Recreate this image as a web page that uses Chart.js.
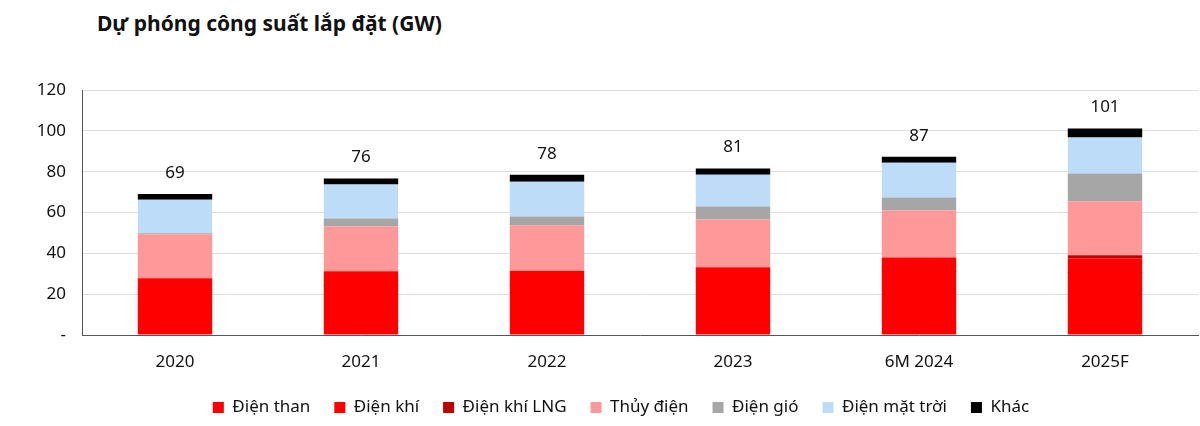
<!DOCTYPE html>
<html>
<head>
<meta charset="utf-8">
<script src="https://cdn.jsdelivr.net/npm/chart.js@4"></script>
<style>
html,body{margin:0;padding:0;background:#fff;}
#wrap{position:relative;width:1200px;height:426px;}
#title{position:absolute;left:97px;top:9px;font-family:"Noto Sans",sans-serif;font-weight:bold;font-size:21px;color:#111;}
canvas{position:absolute;left:0;top:0;}
</style>
</head>
<body>
<div id="wrap">
<div id="title">Dự phóng công suất lắp đặt (GW)</div>
<canvas id="c" width="1200" height="426"></canvas>
</div>
<script>
const categories = ["2020", "2021", "2022", "2023", "6M 2024", "2025F"];
const dienThan   = [20.6, 24.0, 24.3, 26.0, 30.8, 30.4];
const dienKhi    = [7.2, 7.2, 7.2, 7.2, 7.2, 7.2];
const dienKhiLNG = [0, 0, 0, 0, 0, 1.5];
const thuyDien   = [21.5, 22.0, 22.2, 23.4, 23.0, 26.4];
const dienGio    = [0.5, 3.9, 4.3, 6.3, 6.3, 13.6];
const matTroi    = [16.4, 16.6, 17.1, 15.6, 17.1, 17.6];
const khac       = [2.9, 2.9, 3.4, 3.0, 2.9, 4.4];
const totalLabels = ["69", "76", "78", "81", "87", "101"];
const yTicks = [0, 20, 40, 60, 80, 100, 120];

const FONT = '"Noto Sans", sans-serif';
const series = [
  ["Điện than", dienThan, "#FF0000"],
  ["Điện khí", dienKhi, "#FF0000"],
  ["Điện khí LNG", dienKhiLNG, "#C00000"],
  ["Thủy điện", thuyDien, "#FF9999"],
  ["Điện gió", dienGio, "#A6A6A6"],
  ["Điện mặt trời", matTroi, "#BDDCF7"],
  ["Khác", khac, "#000000"]
];

const totalsPlugin = {
  id: 'totals',
  afterLayout(chart) {
    const lg = chart.legend;
    if (lg) { lg.left += 22; lg.right += 22; }
  },
  beforeDatasetsDraw(chart) {
    // hide the anti-aliasing seam between the two same-coloured red segments
    const meta = chart.getDatasetMeta(0);
    meta.data.forEach(el => { el.y = el.y - 1; });
  },
  afterDatasetsDraw(chart) {
    const ctx = chart.ctx;
    const xs = chart.scales.x, ys = chart.scales.y;
    ctx.save();
    ctx.font = '17px ' + FONT;
    ctx.fillStyle = '#111';
    ctx.textAlign = 'center';
    ctx.textBaseline = 'middle';
    categories.forEach((c, i) => {
      let sum = 0;
      series.forEach(s => sum += s[1][i]);
      ctx.fillText(totalLabels[i], xs.getPixelForValue(i), ys.getPixelForValue(sum) - 21);
    });
    ctx.restore();
  }
};

new Chart(document.getElementById('c'), {
  type: 'bar',
  data: {
    labels: categories,
    datasets: series.map(s => ({
      label: s[0], data: s[1], backgroundColor: s[2], borderWidth: 0,
      barPercentage: 0.8, categoryPercentage: 0.5
    }))
  },
  options: {
    responsive: false,
    animation: false,
    layout: { padding: { top: 90, right: 2, left: 0, bottom: 0 } },
    plugins: {
      legend: {
        position: 'bottom',
        labels: {
          boxWidth: 11, boxHeight: 11, padding: 24,
          font: { family: FONT, size: 17 }, color: '#111'
        }
      },
      tooltip: { enabled: false }
    },
    scales: {
      x: {
        stacked: true,
        grid: { display: false, drawTicks: false },
        border: { display: true, color: '#555', width: 1 },
        ticks: { font: { family: FONT, size: 17 }, color: '#111', padding: 17 },
        afterFit(s) { s.height = 40; }
      },
      y: {
        stacked: true,
        min: 0, max: 120,
        afterBuildTicks(s) { s.ticks = yTicks.map(v => ({ value: v })); },
        grid: { color: '#DDDDDD', drawTicks: false },
        border: { display: true, color: '#555', width: 1 },
        ticks: {
          font: { family: FONT, size: 17 }, color: '#111', padding: 16,
          callback: v => v === 0 ? '-' : v
        },
        afterFit(s) { s.width = 82; }
      }
    }
  },
  plugins: [totalsPlugin]
});
</script>
</body>
</html>
